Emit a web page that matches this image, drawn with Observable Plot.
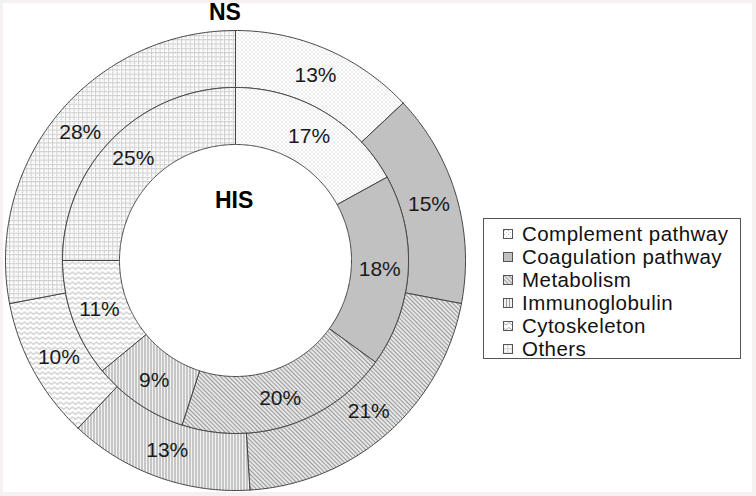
<!DOCTYPE html>
<html><head><meta charset="utf-8">
<script src="https://cdn.jsdelivr.net/npm/d3@7"></script>
<script src="https://cdn.jsdelivr.net/npm/@observablehq/plot@0.6"></script>
<style>
html,body{margin:0;padding:0;}
body{width:756px;height:496px;background:#f5f1f1;position:relative;overflow:hidden;font-family:"Liberation Sans",Arial,sans-serif;}
#panel{position:absolute;left:3px;top:3px;width:749px;height:489px;background:#fff;}
#chart{position:absolute;left:0;top:0;}
.ttl{position:absolute;font-weight:bold;font-size:23px;color:#000;}
#legend{position:absolute;left:483px;top:218px;width:258px;height:141px;border:1px solid #555;background:#fff;box-sizing:border-box;padding-top:3px;}
.li{display:flex;align-items:center;height:23px;font-size:20.5px;color:#111;letter-spacing:0.45px;}
.li svg{margin-left:19px;margin-right:9px;}
</style></head>
<body>
<div id="panel"></div>
<div id="chart"></div>
<div class="ttl" style="left:209px;top:-1px;">NS</div>
<div class="ttl" style="left:215px;top:187px;">HIS</div>
<div id="legend"></div>
<script>
const categories = ["Complement pathway","Coagulation pathway","Metabolism","Immunoglobulin","Cytoskeleton","Others"];
const nsValues  = [13, 15, 21, 13, 10, 28];   // outer ring (NS)
const hisValues = [17, 18, 20, 9, 11, 25];    // inner ring (HIS)
const patternIds = ["pComp","pCoag","pMeta","pImm","pCyto","pOth"];

const rings = [
  {name:"NS", values: nsValues, r0: 173, r1: 230},
  {name:"HIS", values: hisValues, r0: 116, r1: 173}
];

const pie = d3.pie().sort(null).value(d => d);
const polys = [];   // polygon vertices
const labels = [];
rings.forEach(ring => {
  pie(ring.values).forEach((a, i) => {
    const pts = [];
    const n = Math.max(4, Math.ceil((a.endAngle - a.startAngle) / 0.01));
    for (let k = 0; k <= n; k++) {
      const t = a.startAngle + (a.endAngle - a.startAngle) * k / n;
      pts.push([ring.r1 * Math.sin(t), ring.r1 * Math.cos(t)]);
    }
    for (let k = n; k >= 0; k--) {
      const t = a.startAngle + (a.endAngle - a.startAngle) * k / n;
      pts.push([ring.r0 * Math.sin(t), ring.r0 * Math.cos(t)]);
    }
    pts.push(pts[0]);
    pts.forEach(p => polys.push({ring: ring.name, cat: i, x: p[0], y: p[1]}));
    const m = (a.startAngle + a.endAngle) / 2, rm = (ring.r0 + ring.r1) / 2;
    labels.push({x: rm * Math.sin(m), y: rm * Math.cos(m), text: ring.values[i] + "%"});
  });
});

const marks = categories.map((c, i) =>
  Plot.line(polys.filter(d => d.cat === i), {x: "x", y: "y", z: "ring", fill: `url(#${patternIds[i]})`, stroke: "#444", strokeWidth: 1})
);
marks.push(Plot.text(labels, {x: "x", y: "y", text: "text", fontSize: 21, fill: "#1a1a1a"}));

const svg = Plot.plot({
  width: 756, height: 496, margin: 0,
  x: {domain: [-235, 521], axis: null},
  y: {domain: [-236, 260], axis: null},
  style: {background: "transparent", fontFamily: "Liberation Sans, Arial, sans-serif"},
  marks
});

const defs = `<defs>
<pattern id="pComp" patternUnits="userSpaceOnUse" width="4" height="4">
  <rect width="4" height="4" fill="#fff"/><rect x="1" y="1" width="1" height="1" fill="#b0b0b0"/><rect x="3" y="3" width="1" height="1" fill="#c4c4c4"/>
</pattern>
<pattern id="pCoag" patternUnits="userSpaceOnUse" width="2" height="2">
  <rect width="2" height="2" fill="#c4c4c4"/><rect width="1" height="1" fill="#b8b8b8"/>
</pattern>
<pattern id="pMeta" patternUnits="userSpaceOnUse" width="3" height="3" patternTransform="rotate(-45)">
  <rect width="3" height="3" fill="#e6e6e6"/><line x1="0.5" y1="0" x2="0.5" y2="3" stroke="#999" stroke-width="1"/>
</pattern>
<pattern id="pImm" patternUnits="userSpaceOnUse" width="3" height="6">
  <rect width="3" height="6" fill="#f2f2f2"/><line x1="0.5" y1="0" x2="0.5" y2="6" stroke="#999" stroke-width="1"/>
</pattern>
<pattern id="pCyto" patternUnits="userSpaceOnUse" width="6" height="5">
  <rect width="6" height="5" fill="#fff"/><path d="M0,1.5 L3,4 L6,1.5" fill="none" stroke="#a0a0a0" stroke-width="0.9"/>
</pattern>
<pattern id="pOth" patternUnits="userSpaceOnUse" width="4.3" height="4.3">
  <rect width="4.3" height="4.3" fill="#fbfbfb"/><line x1="0" y1="0.5" x2="4.3" y2="0.5" stroke="#bdbdbd" stroke-width="1" stroke-dasharray="1.5,0.6"/><line x1="0.5" y1="0" x2="0.5" y2="4.3" stroke="#bdbdbd" stroke-width="1" stroke-dasharray="1.5,0.6"/>
</pattern>
</defs>`;
svg.insertAdjacentHTML("afterbegin", defs);
document.getElementById("chart").appendChild(svg);

const legend = document.getElementById("legend");
categories.forEach((c, i) => {
  const row = document.createElement("div");
  row.className = "li";
  row.innerHTML = `<svg width="10" height="10"><rect x="0.5" y="0.5" width="9" height="9" fill="url(#${patternIds[i]})" stroke="#555"/></svg><span>${c}</span>`;
  legend.appendChild(row);
});
</script>
</body></html>
